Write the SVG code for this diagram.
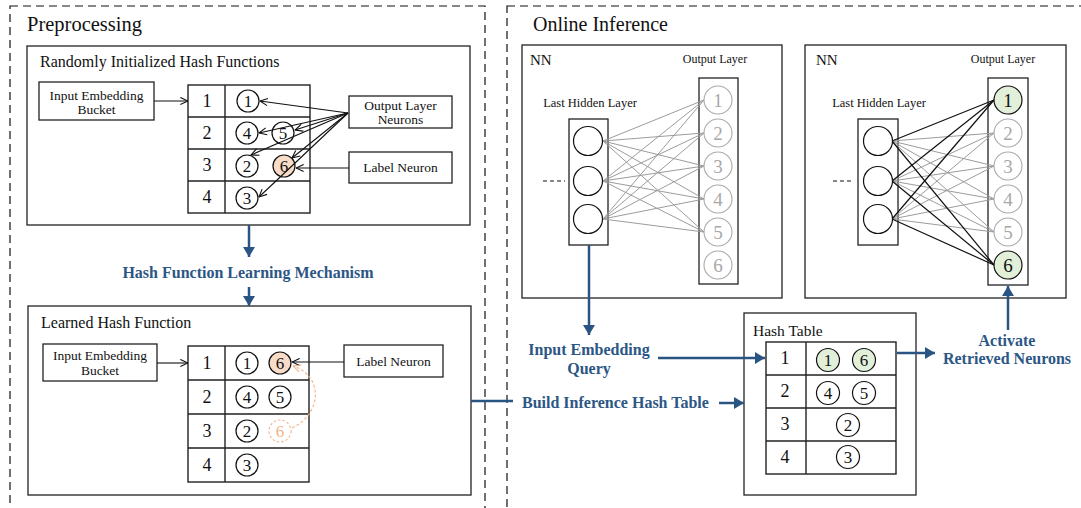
<svg xmlns="http://www.w3.org/2000/svg" width="1081" height="508" viewBox="0 0 1081 508">
  <style>
    .t { font-family: "Liberation Serif", "Times New Roman", serif; fill: #111; }
    .bt { font-family: "Liberation Serif", "Times New Roman", serif; font-weight: bold; fill: #2c5685; font-size: 16px; }
    .box { fill: #fff; stroke: #222; stroke-width: 1.3; }
    .frame { fill: none; stroke: #111; stroke-width: 1.2; stroke-dasharray: 8 5; }
    .cell { fill: none; stroke: #222; stroke-width: 1.4; }
    .nb { fill: #fff; stroke: #111; stroke-width: 1.2; }
    .gray { fill: #fff; stroke: #aaa; stroke-width: 1.1; }
    .gtxt { fill: #a8a8a8; }
    .peach { fill: #f8dcc8; stroke: #111; stroke-width: 1.2; }
    .green { fill: #e2efd9; stroke: #111; stroke-width: 1.2; }
    .ptr { fill: none; stroke: #111; stroke-width: 1.1; marker-end: url(#open); }
    .flow { fill: none; stroke: #2a5583; stroke-width: 2.5; }
    .flowA { fill: none; stroke: #2a5583; stroke-width: 2.5; marker-end: url(#blueHead); }
    .wg { stroke: #9c9c9c; stroke-width: 1; }
    .wb { stroke: #111; stroke-width: 1.2; }
  </style>
  <defs>
    <marker id="open" viewBox="0 0 10 10" refX="9.5" refY="5" markerWidth="9" markerHeight="9" markerUnits="userSpaceOnUse" orient="auto">
      <path d="M1,1 L9.5,5 L1,9" fill="none" stroke="#111" stroke-width="1.2"/>
    </marker>
    <marker id="openPeach" viewBox="0 0 10 10" refX="9.5" refY="5" markerWidth="9" markerHeight="9" markerUnits="userSpaceOnUse" orient="auto">
      <path d="M1,1 L9.5,5 L1,9" fill="none" stroke="#f2b48a" stroke-width="1.2"/>
    </marker>
    <marker id="blueHead" viewBox="0 0 10 12" refX="10" refY="6" markerWidth="10" markerHeight="12" markerUnits="userSpaceOnUse" orient="auto">
      <path d="M0,0 L10,6 L0,12 z" fill="#2a5583"/>
    </marker>
  </defs>

  <rect width="1081" height="508" fill="#fff"/>

  <!-- stage frames -->
  <g id="preprocessing">
    <rect class="frame" x="10" y="6" width="475" height="560"/>
    <text class="t" x="27" y="31" font-size="20.5">Preprocessing</text>
  </g>
  <g id="online-inference">
    <rect class="frame" x="507" y="6" width="620" height="560"/>
    <text class="t" x="533" y="31" font-size="20">Online Inference</text>
  </g>

  <!-- randomly initialized hash functions -->
  <g id="random-hash">
    <rect class="box" x="27" y="46" width="443" height="179"/>
    <text class="t" x="40" y="67" font-size="16">Randomly Initialized Hash Functions</text>
  </g>
  <g id="random-input">
    <rect class="box" x="39" y="82" width="115" height="38"/>
    <text class="t" x="96.5" y="100" font-size="13.5" text-anchor="middle">Input Embedding</text>
    <text class="t" x="96.5" y="114" font-size="13.5" text-anchor="middle">Bucket</text>
  </g>
  <g id="random-table">
    <rect class="cell" x="188" y="85" width="122" height="128"/>
    <path class="cell" d="M225,85 V213 M188,117 H310 M188,149 H310 M188,181 H310"/>
    <g class="t" font-size="18" text-anchor="middle">
      <text x="207" y="107">1</text>
      <text x="207" y="139">2</text>
      <text x="207" y="171">3</text>
      <text x="207" y="203">4</text>
    </g>
    <circle class="nb" cx="248" cy="101" r="11"/>
    <circle class="nb" cx="247" cy="133" r="11"/>
    <circle class="nb" cx="283" cy="133" r="11"/>
    <circle class="nb" cx="247" cy="166" r="11"/>
    <circle class="peach" cx="284" cy="166" r="11"/>
    <circle class="nb" cx="247" cy="198" r="11"/>
    <g class="t" font-size="17" text-anchor="middle">
      <text x="248" y="107">1</text>
      <text x="247" y="139">4</text>
      <text x="283" y="139">5</text>
      <text x="247" y="172">2</text>
      <text x="284" y="172">6</text>
      <text x="247" y="204">3</text>
    </g>
  </g>
  <g id="random-output-neurons">
    <rect class="box" x="349" y="96" width="103" height="32"/>
    <text class="t" x="400.5" y="110" font-size="13.5" text-anchor="middle">Output Layer</text>
    <text class="t" x="400.5" y="124" font-size="13.5" text-anchor="middle">Neurons</text>
  </g>
  <g id="random-label-neuron">
    <rect class="box" x="349" y="152" width="103" height="31"/>
    <text class="t" x="400.5" y="172" font-size="13.5" text-anchor="middle">Label Neuron</text>
  </g>

  <!-- learned hash function -->
  <g id="learned-hash">
    <rect class="box" x="28" y="306" width="443" height="189"/>
    <text class="t" x="41" y="328" font-size="16">Learned Hash Function</text>
  </g>
  <g id="learned-input">
    <rect class="box" x="43" y="344" width="114" height="37"/>
    <text class="t" x="100" y="360" font-size="13.5" text-anchor="middle">Input Embedding</text>
    <text class="t" x="100" y="375" font-size="13.5" text-anchor="middle">Bucket</text>
  </g>
  <g id="learned-table">
    <rect class="cell" x="188" y="346" width="121" height="136"/>
    <path class="cell" d="M225,346 V482 M188,380 H309 M188,414 H309 M188,448 H309"/>
    <g class="t" font-size="18" text-anchor="middle">
      <text x="207" y="369">1</text>
      <text x="207" y="403">2</text>
      <text x="207" y="437">3</text>
      <text x="207" y="471">4</text>
    </g>
    <circle class="nb" cx="247" cy="363" r="11"/>
    <circle class="peach" cx="280" cy="363" r="11"/>
    <circle class="nb" cx="247" cy="397" r="11"/>
    <circle class="nb" cx="280" cy="397" r="11"/>
    <circle class="nb" cx="247" cy="431" r="11"/>
    <circle cx="280" cy="431" r="11" fill="none" stroke="#f2b48a" stroke-width="1.1" stroke-dasharray="2.5 2"/>
    <circle class="nb" cx="247" cy="465" r="11"/>
    <g class="t" font-size="17" text-anchor="middle">
      <text x="247" y="369">1</text>
      <text x="280" y="369">6</text>
      <text x="247" y="403">4</text>
      <text x="280" y="403">5</text>
      <text x="247" y="437">2</text>
      <text x="280" y="437" style="fill:#f2b48a">6</text>
      <text x="247" y="471">3</text>
    </g>
  </g>
  <g id="learned-label-neuron">
    <rect class="box" x="344" y="345" width="99" height="32"/>
    <text class="t" x="393.5" y="366" font-size="13.5" text-anchor="middle">Label Neuron</text>
  </g>

  <!-- first network: all output neurons -->
  <g id="nn-full">
    <rect class="box" x="522" y="45" width="260" height="253"/>
    <text class="t" x="530" y="65" font-size="15">NN</text>
    <text class="t" x="715" y="63" font-size="12" text-anchor="middle">Output Layer</text>
    <text class="t" x="590" y="107" font-size="12.5" text-anchor="middle">Last Hidden Layer</text>
    <rect class="box" x="569" y="119" width="39" height="126"/>
    <rect class="box" x="699" y="78" width="39" height="206"/>
    <line x1="543" y1="181" x2="565" y2="181" stroke="#111" stroke-width="1" stroke-dasharray="4 3"/>
    <g class="wg">
      <line x1="603" y1="141" x2="704" y2="100"/><line x1="603" y1="141" x2="704" y2="133"/><line x1="603" y1="141" x2="704" y2="166"/><line x1="603" y1="141" x2="704" y2="199"/><line x1="603" y1="141" x2="704" y2="232"/>
      <line x1="603" y1="181" x2="704" y2="100"/><line x1="603" y1="181" x2="704" y2="133"/><line x1="603" y1="181" x2="704" y2="166"/><line x1="603" y1="181" x2="704" y2="199"/><line x1="603" y1="181" x2="704" y2="232"/>
      <line x1="603" y1="219" x2="704" y2="100"/><line x1="603" y1="219" x2="704" y2="133"/><line x1="603" y1="219" x2="704" y2="166"/><line x1="603" y1="219" x2="704" y2="199"/><line x1="603" y1="219" x2="704" y2="232"/>
    </g>
    <circle class="nb" cx="588" cy="141" r="14.5"/>
    <circle class="nb" cx="588" cy="181" r="14.5"/>
    <circle class="nb" cx="588" cy="219" r="14.5"/>
    <circle class="gray" cx="718" cy="100" r="14"/>
    <circle class="gray" cx="718" cy="133" r="14"/>
    <circle class="gray" cx="718" cy="166" r="14"/>
    <circle class="gray" cx="718" cy="199" r="14"/>
    <circle class="gray" cx="718" cy="232" r="14"/>
    <circle class="gray" cx="718" cy="265" r="14"/>
    <g class="t gtxt" font-size="19" text-anchor="middle">
      <text x="718" y="107">1</text>
      <text x="718" y="140">2</text>
      <text x="718" y="173">3</text>
      <text x="718" y="206">4</text>
      <text x="718" y="239">5</text>
      <text x="718" y="272">6</text>
    </g>
  </g>

  <!-- second network: retrieved neurons activated -->
  <g id="nn-sparse">
    <rect class="box" x="805" y="45" width="261" height="253"/>
    <text class="t" x="816" y="65" font-size="15">NN</text>
    <text class="t" x="1003" y="63" font-size="12" text-anchor="middle">Output Layer</text>
    <text class="t" x="879" y="107" font-size="12.5" text-anchor="middle">Last Hidden Layer</text>
    <rect class="box" x="858" y="119" width="40" height="126"/>
    <rect class="box" x="988" y="78" width="40" height="207"/>
    <line x1="833" y1="181" x2="854" y2="181" stroke="#111" stroke-width="1" stroke-dasharray="4 3"/>
    <g class="wg">
      <line x1="892" y1="141" x2="994" y2="133"/><line x1="892" y1="141" x2="994" y2="166"/><line x1="892" y1="141" x2="994" y2="199"/><line x1="892" y1="141" x2="994" y2="232"/>
      <line x1="892" y1="181" x2="994" y2="133"/><line x1="892" y1="181" x2="994" y2="166"/><line x1="892" y1="181" x2="994" y2="199"/><line x1="892" y1="181" x2="994" y2="232"/>
      <line x1="892" y1="219" x2="994" y2="133"/><line x1="892" y1="219" x2="994" y2="166"/><line x1="892" y1="219" x2="994" y2="199"/><line x1="892" y1="219" x2="994" y2="232"/>
    </g>
    <g class="wb">
      <line x1="892" y1="141" x2="994" y2="100"/><line x1="892" y1="181" x2="994" y2="100"/><line x1="892" y1="219" x2="994" y2="100"/>
      <line x1="892" y1="141" x2="994" y2="265"/><line x1="892" y1="181" x2="994" y2="265"/><line x1="892" y1="219" x2="994" y2="265"/>
    </g>
    <circle class="nb" cx="878" cy="141" r="14.5"/>
    <circle class="nb" cx="878" cy="181" r="14.5"/>
    <circle class="nb" cx="878" cy="219" r="14.5"/>
    <circle class="green" cx="1008" cy="100" r="14"/>
    <circle class="gray" cx="1008" cy="133" r="14"/>
    <circle class="gray" cx="1008" cy="166" r="14"/>
    <circle class="gray" cx="1008" cy="199" r="14"/>
    <circle class="gray" cx="1008" cy="232" r="14"/>
    <circle class="green" cx="1008" cy="265" r="14"/>
    <g class="t" font-size="19" text-anchor="middle">
      <text x="1008" y="107">1</text>
      <text x="1008" y="140" class="gtxt">2</text>
      <text x="1008" y="173" class="gtxt">3</text>
      <text x="1008" y="206" class="gtxt">4</text>
      <text x="1008" y="239" class="gtxt">5</text>
      <text x="1008" y="272">6</text>
    </g>
  </g>

  <!-- inference hash table -->
  <g id="hash-table">
    <rect class="box" x="744" y="313" width="172" height="182"/>
    <text class="t" x="753" y="336" font-size="15.5">Hash Table</text>
    <rect class="cell" x="766" y="342" width="130" height="132"/>
    <path class="cell" d="M806,342 V474 M766,375 H896 M766,408 H896 M766,441 H896"/>
    <g class="t" font-size="18" text-anchor="middle">
      <text x="785" y="364">1</text>
      <text x="785" y="397">2</text>
      <text x="785" y="430">3</text>
      <text x="785" y="463">4</text>
    </g>
    <circle class="green" cx="828" cy="360" r="11.5"/>
    <circle class="green" cx="864" cy="360" r="11.5"/>
    <circle class="nb" cx="828" cy="393" r="11.5"/>
    <circle class="nb" cx="864" cy="393" r="11.5"/>
    <circle class="nb" cx="848" cy="425" r="11.5"/>
    <circle class="nb" cx="848" cy="457" r="11.5"/>
    <g class="t" font-size="17" text-anchor="middle">
      <text x="828" y="366">1</text>
      <text x="864" y="366">6</text>
      <text x="828" y="399">4</text>
      <text x="864" y="399">5</text>
      <text x="848" y="431">2</text>
      <text x="848" y="463">3</text>
    </g>
  </g>

  <!-- connectors and flow labels -->
  <g id="connectors">
    <line class="ptr" x1="154" y1="101" x2="188" y2="101"/>
    <line class="ptr" x1="348" y1="113" x2="260" y2="101"/>
    <line class="ptr" x1="348" y1="113" x2="259" y2="133"/>
    <line class="ptr" x1="348" y1="113" x2="295" y2="130"/>
    <line class="ptr" x1="348" y1="113" x2="251" y2="155"/>
    <line class="ptr" x1="348" y1="113" x2="292" y2="158"/>
    <line class="ptr" x1="348" y1="113" x2="259" y2="197"/>
    <line class="ptr" x1="349" y1="168" x2="296" y2="168"/>

    <line class="ptr" x1="157" y1="363" x2="188" y2="363"/>
    <line class="ptr" x1="344" y1="362" x2="292" y2="362"/>
    <path d="M292,428 C322,414 324,376 293,366" fill="none" stroke="#f2b48a" stroke-width="1.1" stroke-dasharray="3 2" marker-end="url(#openPeach)"/>

    <line class="flowA" x1="249" y1="225" x2="249" y2="257"/>
    <text class="bt" x="248" y="278" text-anchor="middle">Hash Function Learning Mechanism</text>
    <line class="flowA" x1="249" y1="287" x2="249" y2="306"/>

    <line class="flow" x1="471" y1="401" x2="513" y2="401"/>
    <text class="bt" x="522" y="408">Build Inference Hash Table</text>
    <line class="flowA" x1="719" y1="403" x2="744" y2="403"/>

    <line class="flowA" x1="589" y1="245" x2="589" y2="335"/>
    <text class="bt" x="589" y="355" text-anchor="middle">Input Embedding</text>
    <text class="bt" x="589" y="374" text-anchor="middle">Query</text>
    <line class="flowA" x1="658" y1="358" x2="765" y2="358"/>

    <line class="flowA" x1="897" y1="353" x2="935" y2="353"/>
    <text class="bt" x="1007" y="346" text-anchor="middle">Activate</text>
    <text class="bt" x="1007" y="364" text-anchor="middle">Retrieved Neurons</text>
    <line class="flowA" x1="1008" y1="330" x2="1008" y2="286"/>
  </g>
</svg>
